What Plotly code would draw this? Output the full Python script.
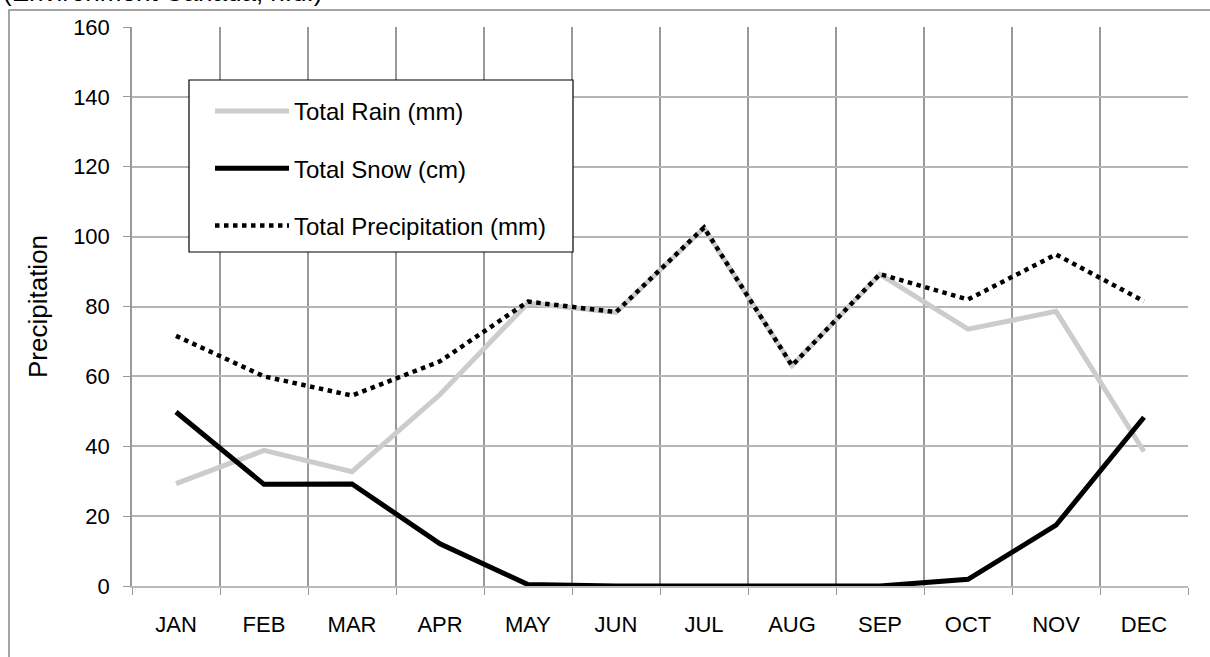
import plotly.graph_objects as go

months = ["JAN", "FEB", "MAR", "APR", "MAY", "JUN", "JUL", "AUG", "SEP", "OCT", "NOV", "DEC"]
total_rain_mm = [29.3, 38.8, 32.7, 54.8, 81.0, 78.3, 102.5, 63.1, 89.2, 73.5, 78.6, 38.5]
total_snow_cm = [49.8, 29.1, 29.2, 12.1, 0.4, 0.0, 0.0, 0.0, 0.0, 1.9, 17.4, 48.3]
total_precip_mm = [71.6, 60.0, 54.5, 64.3, 81.4, 78.4, 102.6, 63.1, 89.3, 82.0, 94.9, 81.5]

y_ticks = [0, 20, 40, 60, 80, 100, 120, 140, 160]

FONT = "Liberation Sans, Arial, sans-serif"

# plot area in page pixels
W, H = 1210, 657
L, R, T, B = 132, 1188, 27, 586
pw, ph = R - L, B - T


def px_x(x):
    return (x - L) / pw


def px_y(y):
    return (B - y) / ph


fig = go.Figure()
fig.add_trace(go.Scatter(
    x=months, y=total_rain_mm, mode="lines", name="Total Rain (mm)",
    line=dict(color="#cccccc", width=5), legendgroup="a",
))
fig.add_trace(go.Scatter(
    x=months, y=total_snow_cm, mode="lines", name="Total Snow (cm)",
    line=dict(color="#000000", width=5), legendgroup="b",
))
fig.add_trace(go.Scatter(
    x=months, y=total_precip_mm, mode="lines", name="Total Precipitation (mm)",
    line=dict(color="#000000", width=4.5, dash="dot"), legendgroup="c",
))

fig.update_layout(
    width=W, height=H,
    margin=dict(l=L, r=W - R, t=T, b=H - B),
    paper_bgcolor="white", plot_bgcolor="white",
    font=dict(family=FONT, size=22, color="#000000"),
    showlegend=True,
    legend=dict(
        x=px_x(210), y=px_y(89), xanchor="left", yanchor="top",
        bgcolor="rgba(0,0,0,0)", borderwidth=0,
        font=dict(size=24), tracegroupgap=23,
        itemwidth=74,
    ),
    xaxis=dict(
        type="category", tickson="boundaries",
        showgrid=True, gridcolor="#999999", gridwidth=1.5,
        ticks="outside", ticklen=7, tickcolor="#999999",
        showline=True, linecolor="#bbbbbb", linewidth=2,
        tickfont=dict(size=22), range=[-0.5, 11.5],
        ticklabelstandoff=18,
        zeroline=False,
    ),
    yaxis=dict(
        range=[0, 160], tickvals=y_ticks,
        showgrid=True, gridcolor="#b5b5b5", gridwidth=1.5,
        ticks="outside", ticklen=7, tickcolor="#999999",
        showline=True, linecolor="#999999", linewidth=1.5,
        zeroline=False, tickfont=dict(size=22),
        ticklabelstandoff=9,
        title=dict(text="Precipitation", font=dict(size=26), standoff=18),
    ),
)

# white legend panel with black border
fig.add_shape(
    type="rect", xref="paper", yref="paper",
    x0=px_x(189), y0=px_y(252), x1=px_x(573), y1=px_y(80),
    line=dict(color="#000000", width=1.2), fillcolor="white", layer="above",
)

# outer chart frame
fig.add_shape(
    type="rect", xref="paper", yref="paper",
    x0=px_x(9), y0=px_y(680), x1=px_x(1230), y1=px_y(10),
    line=dict(color="#888888", width=1.5), fillcolor="rgba(0,0,0,0)", layer="below",
)

# source line above the frame
fig.add_annotation(
    text="(Environment Canada, n.d.)", xref="paper", yref="paper",
    x=px_x(1), y=px_y(9), xanchor="left", yanchor="bottom",
    showarrow=False, font=dict(size=26, color="#000000"),
)

fig.write_html("out.html")
